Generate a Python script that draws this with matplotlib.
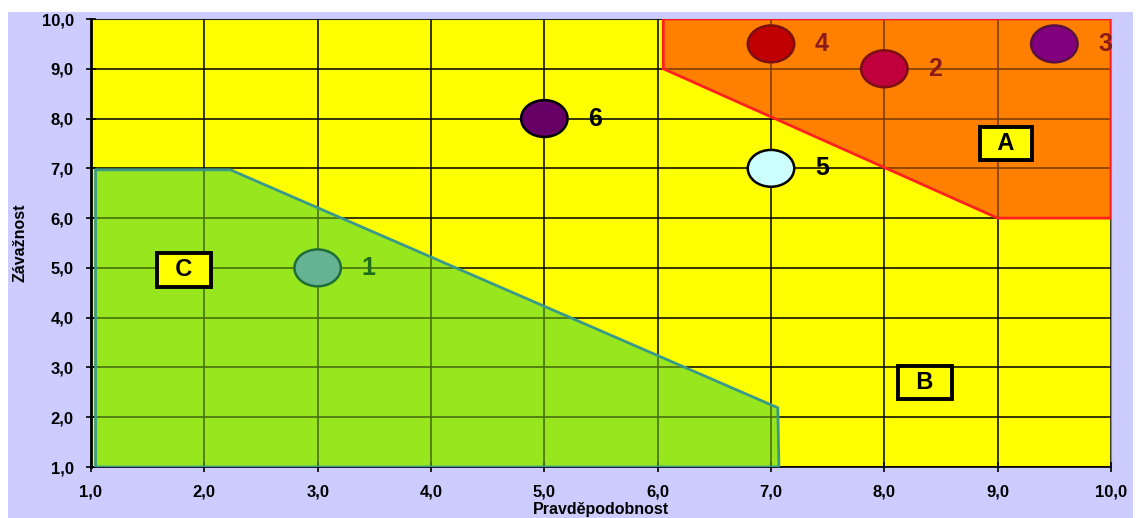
import matplotlib.pyplot as plt
from matplotlib.patches import Polygon, Ellipse, Rectangle
from matplotlib.ticker import FuncFormatter

plt.rcParams['font.family'] = ['Liberation Sans', 'DejaVu Sans']

# risk points: probability, severity
pt_labels = ["1", "2", "3", "4", "5", "6"]
pt_x = [3.0, 8.0, 9.5, 7.0, 7.0, 5.0]
pt_y = [5.0, 9.0, 9.5, 9.5, 7.0, 8.0]
pt_colors = ["#66b394", "#c0003c", "#800080", "#c00000", "#ccffff", "#660066"]
pt_edges = ["#1e6e3a", "#7a1010", "#5a1040", "#7a1010", "#000000", "#000000"]
lbl_colors = ["#1e6e1e", "#8b1a1a", "#8b1a1a", "#8b1a1a", "#000000", "#000000"]

# zones
zone_a = [(6.05, 10), (10, 10), (10, 6), (9, 6), (6.05, 9)]
zone_c = [(1.04, 1), (1.04, 6.97), (2.23, 6.97), (7.06, 2.19), (7.07, 1)]
zone_names = ["A", "B", "C"]
zone_lx = [9.07, 8.36, 1.82]
zone_ly = [7.5, 2.7, 4.96]

ticks = [1, 2, 3, 4, 5, 6, 7, 8, 9, 10]

fig = plt.figure(figsize=(11.4, 5.18), dpi=100)
fig.patch.set_facecolor("white")
fig.patches.append(Rectangle((8 / 1140, 0), 1125 / 1140, 506 / 518,
                             transform=fig.transFigure, facecolor="#ccccff",
                             edgecolor="none", zorder=-10))

ax = fig.add_axes([91 / 1140, 51 / 518, 1020 / 1140, 448 / 518])
ax.set_zorder(1)
ax.set_facecolor("#ffff00")
ax.set_xlim(1, 10)
ax.set_ylim(1, 10)
ax.set_xticks(ticks)
ax.set_yticks(ticks)
fmt = FuncFormatter(lambda v, p: f"{v:.1f}".replace(".", ","))
ax.xaxis.set_major_formatter(fmt)
ax.yaxis.set_major_formatter(fmt)
ax.tick_params(direction="inout", length=7, width=1.2, labelsize=12, pad=9)
for lab in ax.get_xticklabels() + ax.get_yticklabels():
    lab.set_fontweight("bold")
ax.grid(True, color="black", lw=1.1, zorder=2)
ax.set_axisbelow(False)
for s in ["top", "right"]:
    ax.spines[s].set_color("#888888")
ax.spines["left"].set_linewidth(2)
ax.spines["bottom"].set_linewidth(1.2)

# zones: opaque under grid, translucent over grid to tint grid lines
ax.add_patch(Polygon(zone_a, closed=True, facecolor="#ff8000", edgecolor="none", zorder=1))
ax.add_patch(Polygon(zone_a, closed=True, facecolor="#ff8000", edgecolor="none",
                     alpha=0.45, zorder=3))
ax.add_patch(Polygon(zone_a, closed=True, facecolor="none", edgecolor="#ff2020", lw=2, zorder=3))
ax.add_patch(Polygon(zone_c, closed=True, facecolor="#98e61e", edgecolor="none", zorder=1))
ax.add_patch(Polygon(zone_c, closed=True, facecolor="#98e61e", edgecolor="none",
                     alpha=0.45, zorder=3))
ax.add_patch(Polygon(zone_c, closed=True, facecolor="none", edgecolor="#3a9a8a", lw=2, zorder=3))

for i in range(len(pt_labels)):
    ax.add_patch(Ellipse((pt_x[i], pt_y[i]), 0.41, 0.74, facecolor=pt_colors[i],
                         edgecolor=pt_edges[i], lw=1.8, zorder=4))
    ax.text(pt_x[i] + 0.45, pt_y[i], pt_labels[i], color=lbl_colors[i], fontsize=18,
            fontweight="bold", ha="center", va="center", zorder=5, clip_on=False)

for n, x, y in zip(zone_names, zone_lx, zone_ly):
    ax.text(x, y, f"  {n}  ", fontsize=17, fontweight="bold", ha="center", va="center", zorder=5,
            bbox=dict(boxstyle="square,pad=0.22", facecolor="#ffff00", edgecolor="black", lw=2.8))

ax.set_xlabel("Pravděpodobnost", fontsize=11.5, fontweight="bold", labelpad=2)
ax.set_ylabel("Závažnost", fontsize=11.5, fontweight="bold", labelpad=10)

fig.savefig("out.png", dpi=100)
